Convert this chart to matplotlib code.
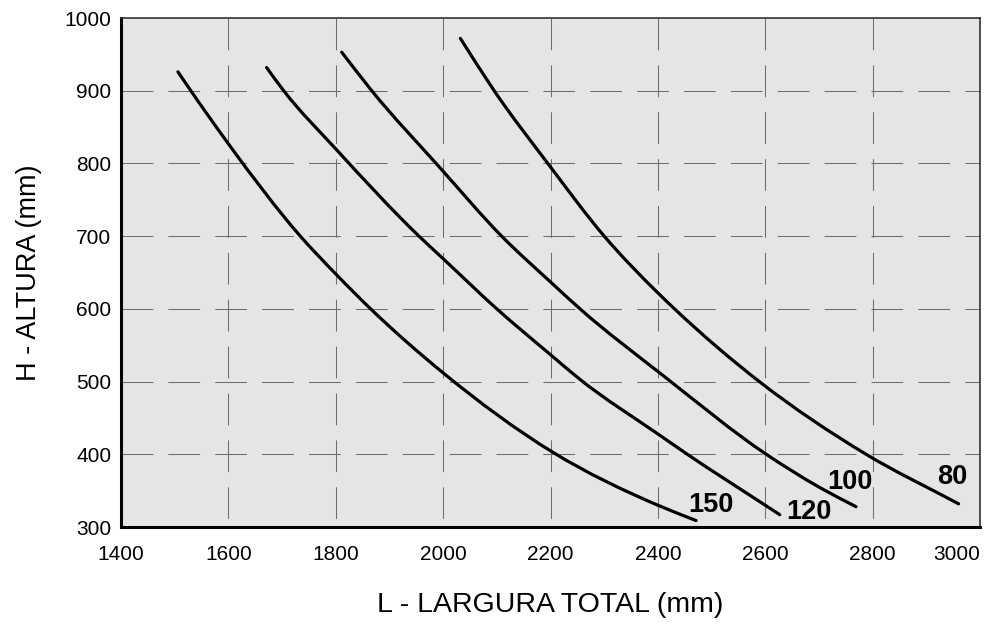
import numpy as np
import matplotlib.pyplot as plt
from matplotlib.path import Path
from matplotlib.patches import PathPatch

plt.rcParams['font.family'] = ['Liberation Sans', 'DejaVu Sans']

# curves (L in mm, H in mm)
l_150 = [1506, 1530, 1600, 1734, 1800, 1865, 2000, 2204, 2400, 2471]
h_150 = [926, 900, 827, 700, 648, 600, 512, 403, 330, 309]

l_120 = [1671, 1703, 1800, 1955, 2000, 2100, 2200, 2255, 2400, 2455, 2600, 2627]
h_120 = [932, 900, 820, 700, 669, 600, 537, 503, 428, 400, 330, 317]

l_100 = [1811, 1867, 1993, 2109, 2200, 2255, 2412, 2600, 2700, 2769]
h_100 = [953, 900, 795, 700, 637, 600, 507, 401, 355, 328]

l_80 = [2032, 2095, 2197, 2300, 2400, 2431, 2589, 2788, 2960]
h_80 = [972, 900, 798, 700, 622, 600, 500, 400, 332]

curve_names = ['150', '120', '100', '80']
label_pos = [(2499, 330), (2682, 321), (2758, 362), (2948, 369)]

x_ticks = [1400, 1600, 1800, 2000, 2200, 2400, 2600, 2800, 3000]
y_ticks = [300, 400, 500, 600, 700, 800, 900, 1000]


def smooth_path(l, h):
    # bezier through the read points, tangents from neighbouring points
    x = np.asarray(l, float)
    y = np.asarray(h, float)
    n = len(x)
    s = np.diff(y) / np.diff(x)
    m = np.empty(n)
    m[0], m[-1] = s[0], s[-1]
    for i in range(1, n - 1):
        w1 = x[i + 1] - x[i]
        w2 = x[i] - x[i - 1]
        m[i] = (s[i - 1] * w1 + s[i] * w2) / (w1 + w2)
    verts = [(x[0], y[0])]
    codes = [Path.MOVETO]
    for i in range(n - 1):
        d = (x[i + 1] - x[i]) / 3
        verts += [(x[i] + d, y[i] + d * m[i]),
                  (x[i + 1] - d, y[i + 1] - d * m[i + 1]),
                  (x[i + 1], y[i + 1])]
        codes += [Path.CURVE4] * 3
    return Path(verts, codes)


fig = plt.figure(figsize=(9.84, 6.32), dpi=100)
ax = fig.add_axes([0.123, 0.166, 0.873, 0.8055])
ax.set_facecolor('#e5e5e5')
ax.set_xlim(1400, 3000)
ax.set_ylim(300, 1000)

dash = (0, (30.5, 14.5))
for x in x_ticks[1:-1]:
    ax.axvline(x, 1, 0, color='#6e6e6e', lw=0.75, ls=dash, zorder=1)
for y in y_ticks[1:-1]:
    ax.axhline(y, color='#6e6e6e', lw=0.75, ls=dash, zorder=1)

for l, h in [(l_150, h_150), (l_120, h_120), (l_100, h_100), (l_80, h_80)]:
    ax.add_patch(PathPatch(smooth_path(l, h), fill=False, edgecolor='black',
                           lw=2.3, capstyle='round', joinstyle='round', zorder=3))

for name, (lx, ly) in zip(curve_names, label_pos):
    ax.text(lx, ly, name, fontsize=19.5, fontweight='bold', ha='center', va='center', zorder=4)

ax.set_xticks(x_ticks)
ax.set_yticks(y_ticks)
ax.set_xticklabels([str(v) for v in x_ticks])
ax.get_xticklabels()[-1].set_horizontalalignment('right')
ax.tick_params(length=0, labelsize=15)
ax.tick_params(axis='x', pad=13)
ax.tick_params(axis='y', pad=7)

for side in ['left', 'bottom']:
    ax.spines[side].set_linewidth(2.2)
    ax.spines[side].set_color('black')
for side in ['top', 'right']:
    ax.spines[side].set_linewidth(1.2)
    ax.spines[side].set_color('#333333')

ax.set_xlabel('L - LARGURA TOTAL (mm)', fontsize=20.5, labelpad=20)
ax.set_ylabel('H - ALTURA (mm)', fontsize=19.5, labelpad=16)

fig.savefig('out.png', dpi=100)
